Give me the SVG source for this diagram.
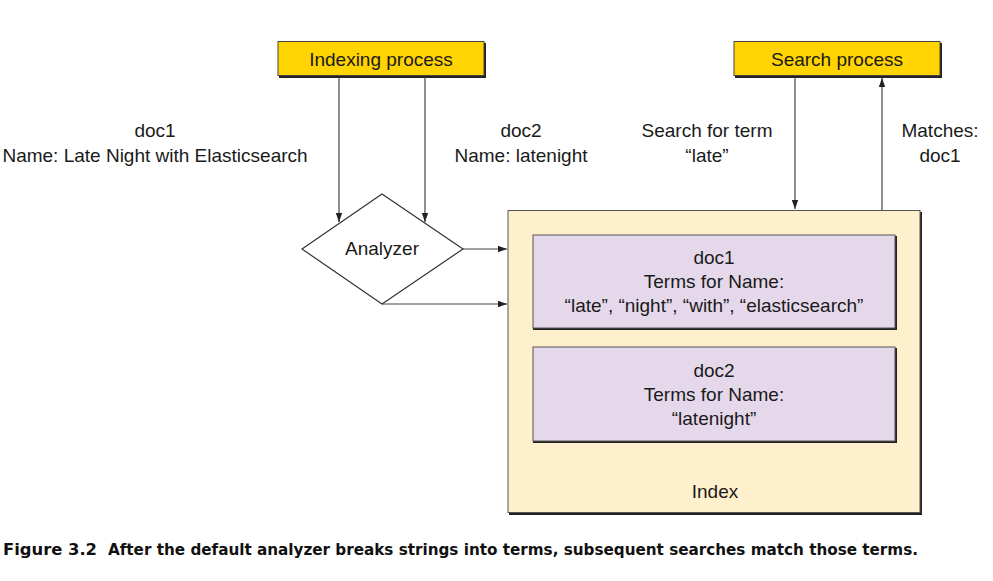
<svg xmlns="http://www.w3.org/2000/svg" width="993" height="581" viewBox="0 0 993 581">
<defs>
<marker id="ah" markerWidth="10" markerHeight="8" refX="9" refY="4" orient="auto" markerUnits="userSpaceOnUse">
<path d="M0,0.8 L9,4 L0,7.2 Z" fill="#222"/>
</marker>
</defs>
<style>
text{font-family:"Liberation Sans",Arial,sans-serif;font-size:19px;fill:#1a1a1a;text-anchor:middle}
.cap{font-family:"DejaVu Sans Condensed","Liberation Sans",sans-serif;font-weight:bold;font-size:16px;text-anchor:start;fill:#111}
.shadow{fill:#222}
.proc{fill:#FFD400;stroke:#444;stroke-width:1}
.idx{fill:#FFF0CD;stroke:#555;stroke-width:1}
.doc{fill:#E5D8EA;stroke:#555;stroke-width:1}
.line{stroke:#444;stroke-width:1.2;fill:none}
</style>
<rect width="993" height="581" fill="#fff"/>
<g id="indexing">
<rect class="shadow" x="279" y="43" width="207" height="35"/>
<rect class="proc" x="278" y="41.5" width="206" height="34"/>
<text x="381" y="66">Indexing process</text>
</g>
<g id="search">
<rect class="shadow" x="735" y="43" width="207" height="35"/>
<rect class="proc" x="734" y="41.5" width="206" height="34"/>
<text x="837" y="66">Search process</text>
</g>
<g id="analyzer">
<polygon points="302,249 382,194 463,249 382,304" fill="#fff" stroke="#333" stroke-width="1.2"/>
<text x="382" y="255">Analyzer</text>
</g>
<g id="index">
<rect class="shadow" x="509" y="212" width="413" height="303"/>
<rect class="idx" x="508" y="210.5" width="412" height="302"/>
<text x="715" y="498">Index</text>
</g>
<g id="doc1">
<rect class="shadow" x="533" y="236" width="364" height="94"/>
<rect class="doc" x="533" y="235" width="362" height="93"/>
<text x="714" y="264">doc1</text>
<text x="714" y="288">Terms for Name:</text>
<text x="714" y="312">“late”, “night”, “with”, “elasticsearch”</text>
</g>
<g id="doc2">
<rect class="shadow" x="533" y="348" width="364" height="95"/>
<rect class="doc" x="533" y="347" width="362" height="94"/>
<text x="714" y="377">doc2</text>
<text x="714" y="401">Terms for Name:</text>
<text x="714" y="425">“latenight”</text>
</g>
<g id="labels">
<text x="155" y="137">doc1</text>
<text x="155" y="162">Name: Late Night with Elasticsearch</text>
<text x="521" y="137">doc2</text>
<text x="521" y="162">Name: latenight</text>
<text x="707" y="137">Search for term</text>
<text x="707" y="162">“late”</text>
<text x="940" y="137">Matches:</text>
<text x="940" y="162">doc1</text>
</g>
<g id="connectors">
<line class="line" x1="339" y1="77" x2="339" y2="222" marker-end="url(#ah)"/>
<line class="line" x1="425" y1="77" x2="425" y2="222" marker-end="url(#ah)"/>
<line class="line" x1="463" y1="249" x2="507" y2="249" marker-end="url(#ah)"/>
<line class="line" x1="382" y1="304" x2="507" y2="304" marker-end="url(#ah)"/>
<line class="line" x1="795" y1="77" x2="795" y2="209" marker-end="url(#ah)"/>
<line class="line" x1="882" y1="210" x2="882" y2="78" marker-end="url(#ah)"/>
</g>
<g id="caption">
<text class="cap" x="3" y="555" textLength="94" lengthAdjust="spacingAndGlyphs">Figure 3.2</text>
<text class="cap" x="108" y="555" textLength="810" lengthAdjust="spacingAndGlyphs">After the default analyzer breaks strings into terms, subsequent searches match those terms.</text>
</g>
</svg>
